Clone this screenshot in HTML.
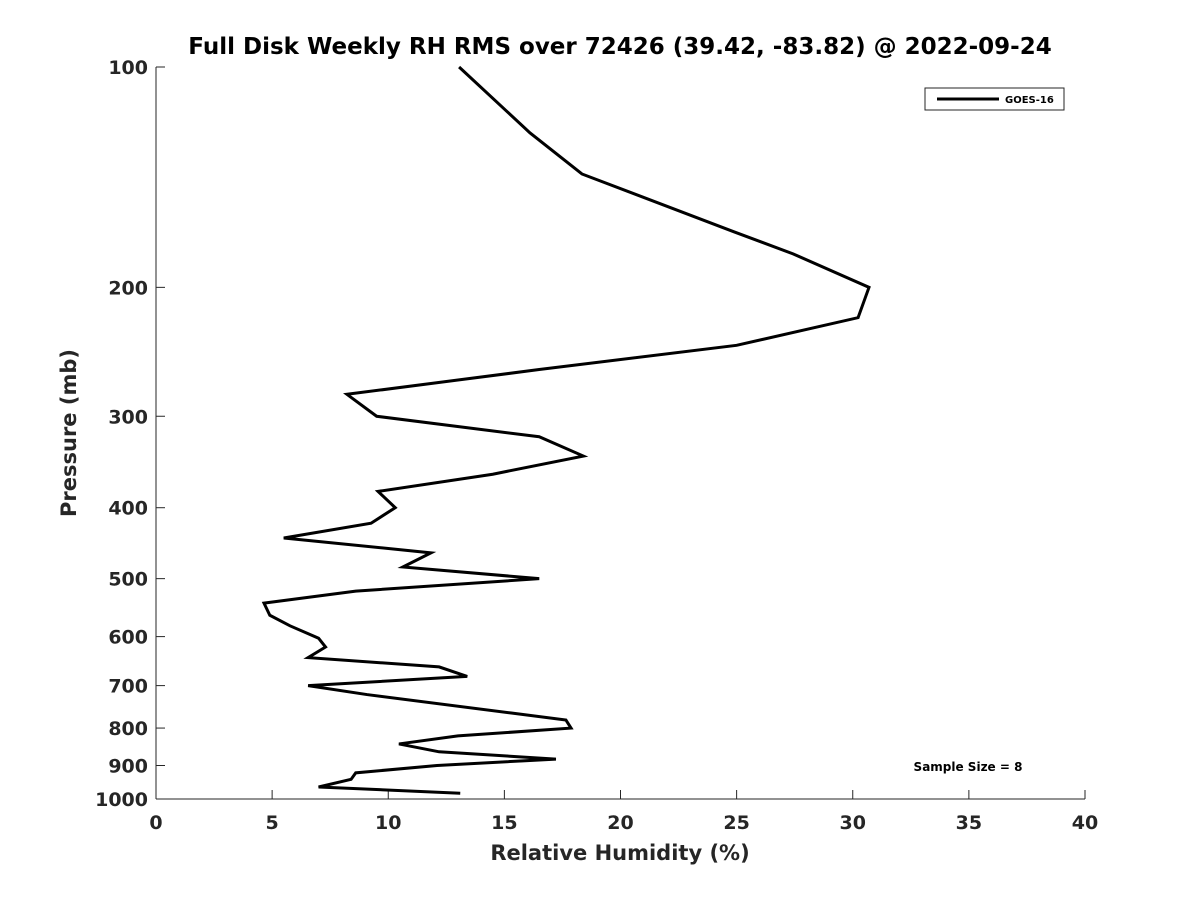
<!DOCTYPE html>
<html><head><meta charset="utf-8"><style>
body{margin:0;background:#fff;}
svg text{font-family:"DejaVu Sans","Liberation Sans",sans-serif;font-weight:bold;fill:#262626;}
</style></head><body>
<svg id="chart" width="1200" height="900" xmlns="http://www.w3.org/2000/svg">
<rect width="1200" height="900" fill="#fff"/>
<text x="620" y="54" text-anchor="middle" font-size="23" style="fill:#000">Full Disk Weekly RH RMS over 72426 (39.42, -83.82) @ 2022-09-24</text>
<g id="axes"></g>
<g id="series"></g>
<text x="620" y="860" text-anchor="middle" font-size="21">Relative Humidity (%)</text>
<text transform="translate(76,433) rotate(-90)" text-anchor="middle" font-size="21">Pressure (mb)</text>
<g>
<rect x="925" y="88" width="139" height="22" fill="#fff" stroke="#262626" stroke-width="1"/>
<line x1="937" y1="99" x2="999" y2="99" stroke="#000" stroke-width="3"/>
<text x="1005" y="103" font-size="10" style="fill:#000">GOES-16</text>
</g>
<text x="968" y="771" text-anchor="middle" font-size="12" style="fill:#000">Sample Size = 8</text>
</svg>
<script>
const rhValues=[13.05,16.1,18.34,24.9,27.43,30.7,30.23,25.0,16.5,8.22,9.5,16.5,18.4,14.5,9.56,10.3,9.26,5.5,11.84,10.63,16.5,8.6,4.65,4.9,5.77,7.0,7.3,6.55,12.19,13.4,6.55,9.08,15.3,17.65,17.87,13.0,10.46,12.19,17.22,12.1,8.6,8.4,7.0,13.1];
const pressureLevels=[100,123,140,168,180,200,220,240,259,280,300,320,340,360,380,400,420,440,461,482,500,520,540,561,580,603,620,641,660,680,700,720,763,780,800,820,841,862,882,900,921,940,963,982];
const xTicks=[0,5,10,15,20,25,30,35,40];
const yTicks=[100,200,300,400,500,600,700,800,900,1000];
const L=156,R=1085,T=67,B=799;
const xs=v=>L+(v-0)/40*(R-L);
const ys=p=>T+(Math.log10(p)-2)*(B-T);
const NS="http://www.w3.org/2000/svg";
const ax=document.getElementById('axes');
function mk(tag,attrs,parent){const e=document.createElementNS(NS,tag);for(const k in attrs)e.setAttribute(k,attrs[k]);parent.appendChild(e);return e;}
const xl=mk('line',{x1:L,y1:B,x2:R,y2:B,stroke:'#262626','stroke-width':1},ax);


const yl=mk('line',{x1:L,y1:T,x2:L,y2:B,stroke:'#262626','stroke-width':1},ax);


xTicks.forEach(t=>{const x=xs(t);
 mk('line',{x1:x,y1:B,x2:x,y2:B-9,stroke:'#262626'},ax);
 const tx=mk('text',{x:x,y:B+30,'text-anchor':'middle','font-size':19},ax);tx.textContent=t;
 
 
});
yTicks.forEach(t=>{const y=ys(t);
 mk('line',{x1:L,y1:y,x2:L+9,y2:y,stroke:'#262626'},ax);
 const tx=mk('text',{x:L-8,y:y+7,'text-anchor':'end','font-size':19},ax);tx.textContent=t;
 
 
});
const pts=rhValues.map((v,i)=>xs(v)+','+ys(pressureLevels[i])).join(' ');
const pl=mk('polyline',{points:pts,fill:'none',stroke:'#000','stroke-width':3,'stroke-linejoin':'miter'},document.getElementById('series'));


</script>
</body></html>
